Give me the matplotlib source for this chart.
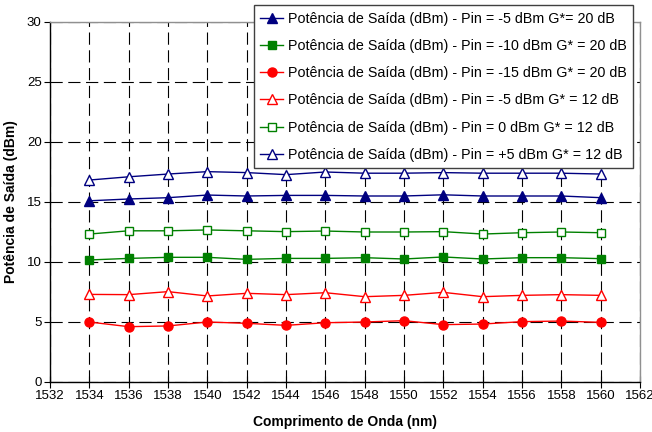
import matplotlib
matplotlib.use("Agg")
import matplotlib.pyplot as plt
from matplotlib import font_manager

# wavelength grid (nm)
wl = [1534, 1536, 1538, 1540, 1542, 1544, 1546, 1548, 1550, 1552, 1554, 1556, 1558, 1560]

# output power (dBm) for each input power / gain setting
p_m5_g20 = [15.1, 15.25, 15.36, 15.58, 15.5, 15.55, 15.55, 15.5, 15.5, 15.6, 15.5, 15.5, 15.5, 15.36]
p_m10_g20 = [10.17, 10.3, 10.39, 10.39, 10.22, 10.3, 10.3, 10.36, 10.25, 10.42, 10.25, 10.36, 10.36, 10.28]
p_m15_g20 = [5.0, 4.61, 4.67, 5.0, 4.89, 4.72, 4.94, 5.0, 5.11, 4.78, 4.83, 5.03, 5.08, 4.97]
p_m5_g12 = [7.3, 7.28, 7.53, 7.17, 7.39, 7.28, 7.44, 7.11, 7.22, 7.47, 7.11, 7.22, 7.28, 7.22]
p_0_g12 = [12.33, 12.6, 12.6, 12.67, 12.6, 12.53, 12.58, 12.5, 12.5, 12.53, 12.33, 12.44, 12.5, 12.44]
p_p5_g12 = [16.83, 17.1, 17.33, 17.53, 17.45, 17.28, 17.5, 17.4, 17.4, 17.45, 17.4, 17.4, 17.4, 17.33]

labels = [
    "Potência de Saída (dBm) - Pin = -5 dBm G*= 20 dB",
    "Potência de Saída (dBm) - Pin = -10 dBm G* = 20 dB",
    "Potência de Saída (dBm) - Pin = -15 dBm G* = 20 dB",
    "Potência de Saída (dBm) - Pin = -5 dBm G* = 12 dB",
    "Potência de Saída (dBm) - Pin = 0 dBm G* = 12 dB",
    "Potência de Saída (dBm) - Pin = +5 dBm G* = 12 dB",
]

names = [f.name for f in font_manager.fontManager.ttflist]
fam = "Liberation Sans Narrow" if "Liberation Sans Narrow" in names else "Liberation Sans"
plt.rcParams["font.family"] = [fam, "DejaVu Sans"]

navy = "#000080"
green = "#008000"
red = "#ff0000"

fig = plt.figure(figsize=(6.52, 4.32), dpi=100)
ax = fig.add_axes([50 / 652, 50 / 432, 590 / 652, 360 / 432])

series = [
    (p_m5_g20, navy, "^", navy),
    (p_m10_g20, green, "s", green),
    (p_m15_g20, red, "o", red),
    (p_m5_g12, red, "^", "white"),
    (p_0_g12, green, "s", "white"),
    (p_p5_g12, navy, "^", "white"),
]
for (vals, col, mk, face), lab in zip(series, labels):
    ax.plot(wl, vals, color=col, lw=1, marker=mk, ms=6.5 if mk != "s" else 6,
            mfc=face, mec=col, mew=1, label=lab, zorder=3)

ax.set_xlim(1532, 1562)
ax.set_ylim(0, 30)
ax.set_xticks(range(1532, 1563, 2))
ax.set_yticks(range(0, 31, 5))
ax.grid(True, color="black", ls=(0, (11, 5)), lw=0.8)

for side in ["left", "bottom"]:
    ax.spines[side].set_color("black")
    ax.spines[side].set_linewidth(1)
for side in ["top", "right"]:
    ax.spines[side].set_color("#909090")
    ax.spines[side].set_linewidth(1)
ax.tick_params(axis="x", direction="inout", length=8, width=0.8, labelsize=9.5, pad=2)
ax.tick_params(axis="y", direction="out", length=4, width=0.8, labelsize=9.5, pad=2)

ax.set_xlabel("Comprimento de Onda (nm)", fontsize=10, fontweight="bold", labelpad=9)
ax.set_ylabel("Potência de Saída (dBm)", fontsize=10, fontweight="bold", labelpad=6)

leg = ax.legend(loc="upper right", bbox_to_anchor=(0.988, 1.047), fontsize=10.3,
                frameon=True, fancybox=False, framealpha=1, edgecolor="#404040",
                handlelength=1.6, handletextpad=0.3, labelspacing=0.93,
                borderpad=0.45, borderaxespad=0)
leg.get_frame().set_linewidth(1)
leg.set_zorder(5)

fig.savefig("out.png", dpi=100)
